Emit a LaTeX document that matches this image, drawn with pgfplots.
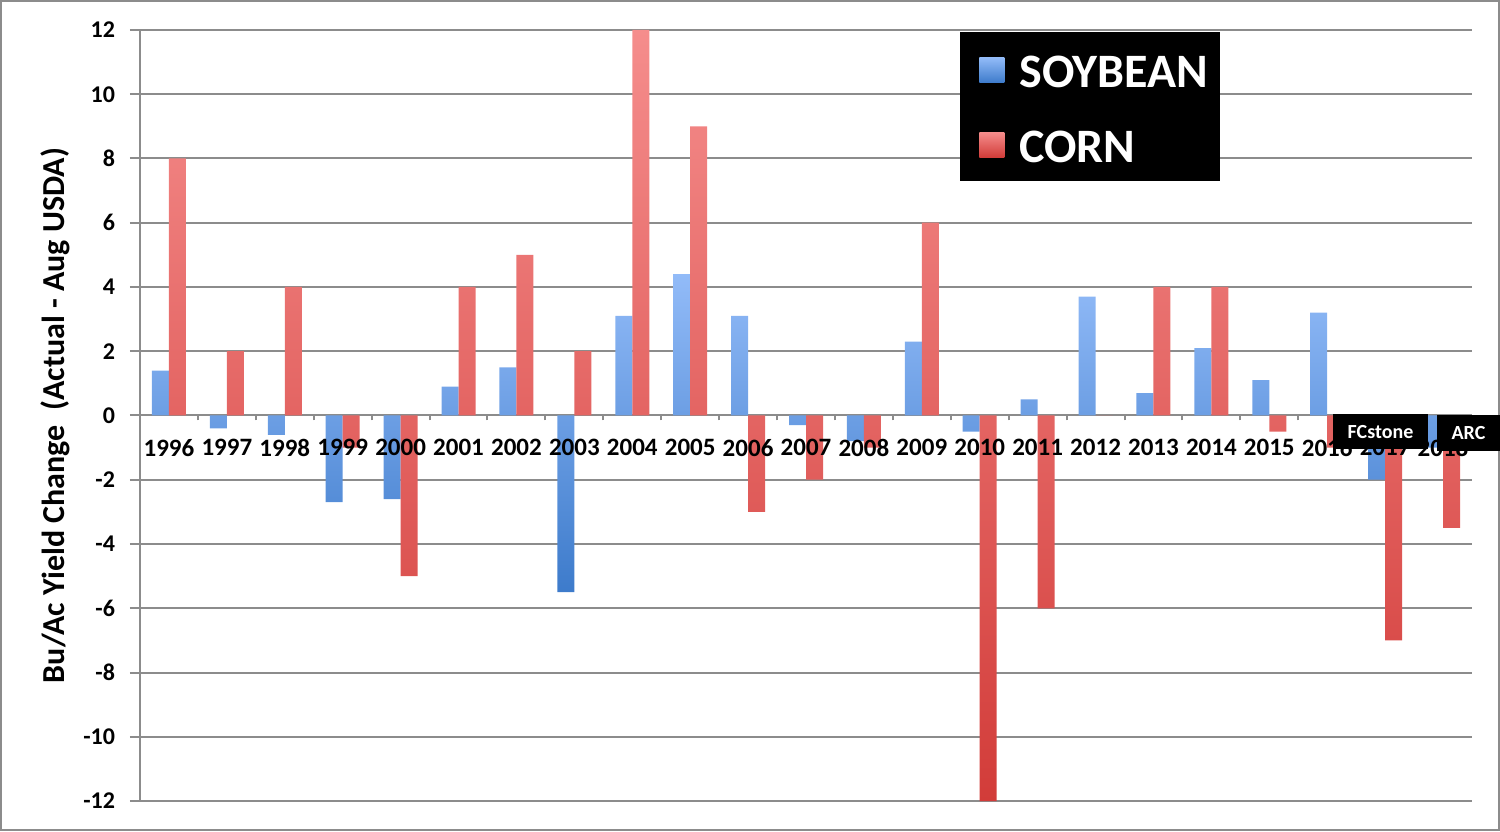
\documentclass[border=0pt]{standalone}
\usepackage{pgfplots}
\pgfplotsset{compat=1.18}
\usepackage{fontspec}
\setmainfont{Carlito}
\definecolor{gridc}{HTML}{8C8C8C}
\definecolor{soyT}{HTML}{92BBF8}
\definecolor{soyB}{HTML}{3D7BCB}
\definecolor{cornT}{HTML}{F58D8C}
\definecolor{cornB}{HTML}{D23C39}
\pgfplotsset{layers/mylayers/.define layer set={axis background,axis grid,axis ticks,axis lines,main,axis tick labels,axis descriptions,axis foreground}{
   grid style={/pgfplots/on layer=axis grid},
   tick style={/pgfplots/on layer=axis ticks},
   axis line style={/pgfplots/on layer=axis lines},
   label style={/pgfplots/on layer=axis descriptions},
   legend style={/pgfplots/on layer=axis descriptions},
   title style={/pgfplots/on layer=axis descriptions},
   colorbar style={/pgfplots/on layer=axis descriptions},
   ticklabel style={/pgfplots/on layer=axis tick labels},
   axis background@ style={/pgfplots/on layer=axis background},
}}
\pgfplotstableread{
x soy corn
0 1.4 8
1 -0.4 2
2 -0.6 4
3 -2.7 -1
4 -2.6 -5
5 0.9 4
6 1.5 5
7 -5.5 2
8 3.1 12
9 4.4 9
10 3.1 -3
11 -0.3 -2
12 -0.8 -1
13 2.3 6
14 -0.5 -12
15 0.5 -6
16 3.7 0
17 0.7 4
18 2.1 4
19 1.1 -0.5
20 3.2 -1
21 -2.0 -7
22 -1.0 -3.5
}\datatable
\begin{document}
\begin{tikzpicture}
\begin{axis}[
  set layers=mylayers,
  scale only axis, width=666pt, height=385.5pt,
  xmin=-0.5, xmax=22.5, ymin=-12, ymax=12,
  clip=false,
  axis x line=middle, axis y line=left,
  axis line style={-, gridc, line width=1pt},
  hide obscured x ticks=false, hide obscured y ticks=false,
  xtick={0,...,22},
  xticklabels={1996,1997,1998,1999,2000,2001,2002,2003,2004,2005,2006,2007,2008,2009,2010,2011,2012,2013,2014,2015,2016,2017,2018},
  minor xtick={0.5,1.5,...,21.5},
  major x tick style={draw=none},
  minor x tick style={gridc, line width=1pt},
  minor tick length=2.5pt,
  major tick length=5pt,
  tick align=outside,
  ytick={-12,-10,...,12},
  yticklabels={-12,-10,-8,-6,-4,-2,0,2,4,6,8,10,12},
  y tick style={gridc, line width=1pt},
  ymajorgrids, grid style={gridc, line width=1pt},
  ticklabel style={font=\bfseries\fontsize{12}{14}\selectfont, text=black},
  xticklabel style={font=\bfseries\fontsize{12.5}{14}\selectfont, yshift=-3.5pt},
  yticklabel style={xshift=-4pt},
  every axis y label/.style={at={(axis description cs:0,0.5)}, xshift=-42.5pt, rotate=90, anchor=center},
  ylabel={\bfseries\fontsize{16}{18}\selectfont Bu/Ac Yield Change\ \ (Actual - Aug USDA)},
  legend style={at={(rel axis cs:0.6253,0.895)}, anchor=west, fill=none, draw=none,
    text=white, font=\bfseries\fontsize{24}{28}\selectfont, row sep=20pt,
    nodes={inner sep=0pt}, /tikz/every odd column/.append style={column sep=7.5pt}},
  legend cell align=left,
]
\fill[black] (rel axis cs:0.6156,0.804) rectangle (rel axis cs:0.8108,0.9974);
\addplot[ybar, bar width=8.5pt, bar shift=-4.25pt, draw=none, top color=soyT, bottom color=soyB,
  legend image code/.code={\shade[top color=soyT, bottom color=soyB] (0pt,-4.5pt) rectangle (12.5pt,8pt);}]
  table[x=x, y=soy] {\datatable};
\addplot[ybar, bar width=8.5pt, bar shift=4.25pt, draw=none, top color=cornT, bottom color=cornB,
  legend image code/.code={\shade[top color=cornT, bottom color=cornB] (0pt,-4.5pt) rectangle (12.5pt,8pt);}]
  table[x=x, y=corn] {\datatable};
\legend{SOYBEAN, CORN}
\begin{pgfonlayer}{axis foreground}
\node[fill=black, text=white, font=\bfseries\fontsize{10}{12}\selectfont, minimum width=47.5pt, minimum height=17.5pt, inner sep=0pt] at (axis cs:20.92,-0.5) {FCstone};
\node[fill=black, text=white, font=\bfseries\fontsize{10}{12}\selectfont, minimum width=31.5pt, minimum height=18pt, inner sep=0pt] at (axis cs:22.44,-0.55) {ARC};
\end{pgfonlayer}
\coordinate (bl) at (rel axis cs:0,0);
\coordinate (tr) at (rel axis cs:1,1);
\end{axis}
\draw[gridc, line width=1pt] ([shift={(-69.5pt,-14.5pt)}]bl) rectangle ([shift={(13.5pt,14.5pt)}]tr);
\pgfresetboundingbox
\path ([shift={(-70pt,-15pt)}]bl) rectangle ([shift={(14pt,15pt)}]tr);
\end{tikzpicture}
\end{document}
